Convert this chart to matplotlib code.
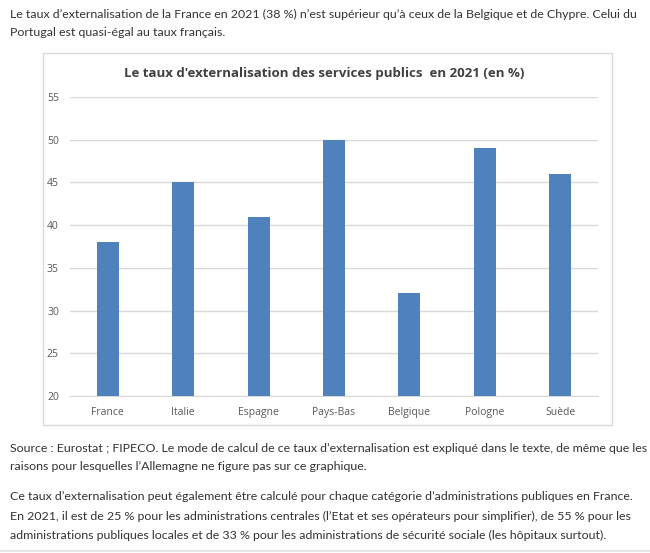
import matplotlib.pyplot as plt
from matplotlib.patches import Rectangle

# Data
pays = ["France", "Italie", "Espagne", "Pays-Bas", "Belgique", "Pologne", "Suède"]
taux = [38, 45, 41, 50, 32, 49, 46]
yticks = [20, 25, 30, 35, 40, 45, 50, 55]

titre = "Le taux d'externalisation des services publics  en 2021 (en %)"
intro = [
    "Le taux d\u2019externalisation de la France en 2021 (38 %) n\u2019est supérieur qu\u2019à ceux de la Belgique et de Chypre. Celui du",
    "Portugal est quasi-égal au taux français.",
]
source = [
    "Source : Eurostat ; FIPECO. Le mode de calcul de ce taux d\u2019externalisation est expliqué dans le texte, de même que les",
    "raisons pour lesquelles l\u2019Allemagne ne figure pas sur ce graphique.",
]
suite = [
    "Ce taux d\u2019externalisation peut également être calculé pour chaque catégorie d\u2019administrations publiques en France.",
    "En 2021, il est de 25 % pour les administrations centrales (l\u2019Etat et ses opérateurs pour simplifier), de 55 % pour les",
    "administrations publiques locales et de 33 % pour les administrations de sécurité sociale (les hôpitaux surtout).",
]

W, H = 650, 553
fig = plt.figure(figsize=(6.5, 5.53), dpi=100)
fig.patch.set_facecolor("white")

def px(x, y):
    return x / W, 1 - y / H

# fit body text size so the longest line spans ~630 px like the reference
renderer = fig.canvas.get_renderer()
probe = fig.text(0, 0, intro[0], fontsize=10, family="Lato")
w10 = probe.get_window_extent(renderer).width
probe.remove()
body_size = 10 * 628 / w10

text_kw = dict(fontsize=body_size, family="Lato", color="#333333", va="center", ha="left")
for i, line in enumerate(intro):
    fig.text(*px(10, 14 + i * 18), line, **text_kw)
for i, line in enumerate(source):
    fig.text(*px(10, 448 + i * 18.5), line, **text_kw)
for i, line in enumerate(suite):
    fig.text(*px(10, 497 + i * 19), line, **text_kw)

# chart frame
x0, y0 = px(43, 425)
x1, y1 = px(612, 53)
fig.patches.append(Rectangle((x0, y0), x1 - x0, y1 - y0, transform=fig.transFigure,
                             fill=False, edgecolor="#d9d9d9", linewidth=1))

fig.text(*px(324, 73), titre, fontsize=9.5, fontweight="bold", color="#404040",
         ha="center", va="center", family="Open Sans")

# bottom separator
fig.add_artist(plt.Line2D([0, 1], [1 - 551 / H] * 2, transform=fig.transFigure,
                          color="#e6e6e6", linewidth=1.5))

ax = fig.add_axes([70 / W, 1 - 396 / H, (598 - 70) / W, (396 - 97) / H])
ax.bar(range(len(pays)), taux, width=0.29, color="#4f81bd", zorder=3)
ax.set_ylim(20, 55)
ax.set_xlim(-0.5, len(pays) - 0.5)
ax.set_yticks(yticks)
ax.set_xticks(range(len(pays)))
ax.set_xticklabels(pays)
ax.grid(axis="y", color="#d9d9d9", linewidth=1, zorder=0)
for s in ["top", "right", "left"]:
    ax.spines[s].set_visible(False)
ax.spines["bottom"].set_color("#d9d9d9")
ax.tick_params(length=0, labelsize=7.5, labelcolor="#595959", pad=8)
for lab in ax.get_xticklabels() + ax.get_yticklabels():
    lab.set_family("Open Sans")
ax.tick_params(axis="y", pad=8)

fig.savefig("out.png", dpi=100)
